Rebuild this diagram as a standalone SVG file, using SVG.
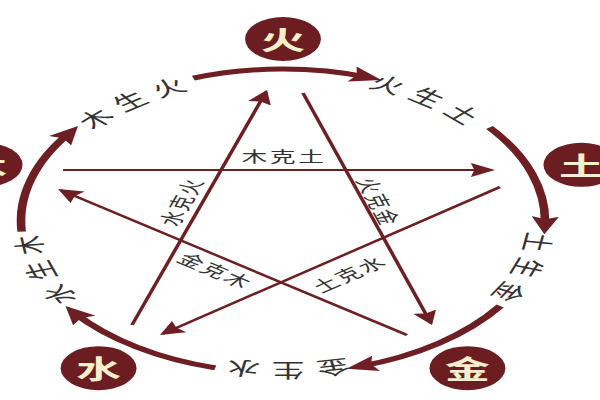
<svg xmlns="http://www.w3.org/2000/svg" width="600" height="400" viewBox="0 0 600 400">
<defs>
<style>
.arc{fill:none;stroke:#6e1f24;stroke-width:5;marker-end:url(#ah)}
.star{fill:none;stroke:#6e1f24;stroke-width:2.2;marker-end:url(#as)}
.node circle{fill:#6c1d21}
.node text{font-family:"Noto Sans CJK SC",sans-serif;font-weight:bold;font-size:26px;fill:#f7efcb;text-anchor:middle;dominant-baseline:central}
.lab{font-family:"Noto Sans CJK SC",sans-serif;font-size:19px;fill:#333;letter-spacing:6px;text-anchor:middle}
.slab{font-family:"Noto Sans CJK SC",sans-serif;font-size:15px;fill:#333;letter-spacing:1.5px;text-anchor:middle;dominant-baseline:central}
</style>
<marker id="ah" markerUnits="userSpaceOnUse" viewBox="0 -8 18 16" refX="10" refY="0" markerWidth="18" markerHeight="16" orient="auto"><path d="M0,-8 L18,0 L0,8 L3,0 Z" fill="#6e1f24"/></marker>
<marker id="as" markerUnits="userSpaceOnUse" viewBox="0 -7 14 14" refX="12" refY="0" markerWidth="14" markerHeight="14" orient="auto"><path d="M0,-7 L14,0 L0,7 L2,0 Z" fill="#6e1f24"/></marker>
<path id="tp1" d="M-129.1,-59.1 A142,142 0 0 1 -13.4,-141.4"/>
<path id="tp2" d="M12.9,-141.4 A142,142 0 0 1 128.9,-59.6"/>
<path id="tp3" d="M139.6,-25.9 A142,142 0 0 1 92.2,108"/>
<path id="tp4" d="M71,123 A142,142 0 0 1 -71,123"/>
<path id="tp5" d="M-94.6,105.9 A142,142 0 0 1 -139,-29"/>
</defs>
<rect width="600" height="400" fill="#ffffff"/>
<g transform="translate(283,221) scale(1.7237,1)">
<g id="connectors">
<g id="sheng">
<path class="arc" d="M-151.63,10.6 A152,152 0 0 1 -123.59,-88.48"/>
<path class="arc" d="M-51.99,-142.83 A152,152 0 0 1 49.49,-143.72"/>
<path class="arc" d="M119.78,-93.58 A152,152 0 0 1 151.91,5.3"/>
<path class="arc" d="M126.01,85 A152,152 0 0 1 44.44,145.36"/>
<path class="arc" d="M-39.34,146.82 A152,152 0 0 1 -121.39,91.48"/>
<text class="lab"><textPath href="#tp1" startOffset="50%">木生火</textPath></text>
<text class="lab"><textPath href="#tp2" startOffset="50%">火生土</textPath></text>
<text class="lab"><textPath href="#tp3" startOffset="50%">土生金</textPath></text>
<text class="lab"><textPath href="#tp4" startOffset="50%">金生水</textPath></text>
<text class="lab"><textPath href="#tp5" startOffset="50%">水生木</textPath></text>
</g>
<g id="ke">
<path class="star" d="M-127.6,-51 L121,-51"/>
<path class="star" d="M-87.6,104 L-9.9,-129.1"/>
<path class="star" d="M11.6,-128 L85.8,102.1"/>
<path class="star" d="M125.9,-34 L-69.8,112.8"/>
<path class="star" d="M71.9,114 L-128.9,-30.8"/>
<text class="slab" transform="translate(0.6,-66)">木克土</text>
<text class="slab" transform="translate(-59.8,-19.3) rotate(-71.6)">水克火</text>
<text class="slab" transform="translate(56.3,-19.3) rotate(72.1)">火克金</text>
<text class="slab" transform="translate(37.9,52.3) rotate(-36.9)">土克水</text>
<text class="slab" transform="translate(-38.5,49) rotate(35.8)">金克木</text>
</g>
</g>
<g id="node-huo" class="node"><circle cx="0" cy="-182" r="22"/><text x="0" y="-182">火</text></g>
<g id="node-tu" class="node"><circle cx="173.1" cy="-56.2" r="22"/><text x="173.1" y="-56.2">土</text></g>
<g id="node-jin" class="node"><circle cx="107" cy="147.2" r="22"/><text x="107" y="147.2">金</text></g>
<g id="node-shui" class="node"><circle cx="-107" cy="147.2" r="22"/><text x="-107" y="147.2">水</text></g>
<g id="node-mu" class="node"><circle cx="-173.1" cy="-56.2" r="22"/><text x="-173.1" y="-56.2">木</text></g>
</g>
</svg>
